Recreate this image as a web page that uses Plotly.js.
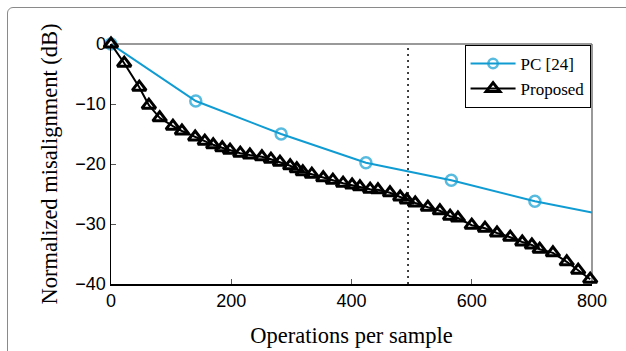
<!DOCTYPE html>
<html>
<head>
<meta charset="utf-8">
<script src="https://cdn.plot.ly/plotly-3.0.1.min.js"></script>
<style>
html,body{margin:0;padding:0;background:#fff;}
#wrap{position:relative;width:626px;height:351px;overflow:hidden;}
#frame{position:absolute;left:7px;top:7px;width:640px;height:360px;border:1px solid #8a8a8a;border-radius:6px;pointer-events:none;}
#chart{position:absolute;left:0;top:0;width:626px;height:351px;}
</style>
</head>
<body>
<div id="wrap"><div id="chart"></div><div id="frame"></div></div>
<script>
// PC [24]
const pcX = [0, 141, 283, 424, 566, 705, 800];
const pcY = [0, -9.5, -15.0, -19.8, -22.7, -26.2, -28.1];
// Proposed
const propX = [0, 22, 47, 63, 81, 103, 118, 140, 156, 170, 185, 198, 215, 231, 251, 266, 281, 298, 309, 319,
  334, 353, 369, 386, 401, 414, 431, 444, 464, 481, 492, 506, 527, 547, 564, 577, 600, 622, 642, 664,
  684, 700, 713, 735, 758, 777, 797];
const propY = [0, -3.2, -7.2, -10.2, -12.3, -13.7, -14.5, -15.5, -16.2, -16.8, -17.3, -17.7, -18.2, -18.5, -18.8, -19.2, -19.7, -20.3, -20.8, -21.3,
  -21.7, -22.3, -22.7, -23.2, -23.5, -23.8, -24.2, -24.3, -24.8, -25.5, -26.0, -26.5, -27.2, -27.8, -28.7, -29.0, -30.2, -30.7, -31.5, -32.2,
  -33.0, -33.5, -34.2, -34.8, -36.3, -37.7, -39.2];
const names = ["PC [24]", "Proposed"];
const xTicks = [0, 200, 400, 600, 800];
const yTicks = [0, -10, -20, -30, -40];
const markerLineX = 494;

const blue = "rgb(16,156,210)";
// no marker drawn on the final (end-of-line) PC point
const pcSizes = pcX.map((v, i) => i === pcX.length - 1 ? 0 : 11);
const traces = [
  {x: pcX, y: pcY, name: names[0], mode: "lines+markers", cliponaxis: false,
   line: {color: blue, width: 2},
   marker: {symbol: "circle-open", size: pcSizes, color: blue, line: {width: 2.5, color: blue}}},
  {x: propX, y: propY, name: names[1], mode: "lines+markers", cliponaxis: false,
   line: {color: "#000", width: 2},
   marker: {symbol: "triangle-up-open", size: 12, color: "#000", line: {width: 3, color: "#000"}}}
];

const layout = {
  width: 626, height: 351,
  margin: {l: 111, r: 34, t: 44, b: 67},
  paper_bgcolor: "#fff", plot_bgcolor: "#fff",
  showlegend: true,
  font: {family: "Liberation Sans, Arial, sans-serif", size: 18, color: "#000"},
  xaxis: {
    range: [0, 800], tickvals: xTicks, ticktext: xTicks.map(String),
    ticks: "inside", ticklen: 5, tickcolor: "#555", tickwidth: 1,
    showgrid: false, zeroline: false, showline: true, linecolor: "#000", linewidth: 1.5,
    tickfont: {family: "Liberation Sans, Arial, sans-serif", size: 18},
    title: {text: "Operations per sample", font: {family: "Liberation Serif, Times New Roman, serif", size: 22.5}, standoff: 17}
  },
  yaxis: {
    range: [-40, 0], tickvals: yTicks,
    ticks: "inside", ticklen: 5, tickcolor: "#555", tickwidth: 1,
    showgrid: false, zeroline: false, showline: true, linecolor: "#000", linewidth: 1.5,
    tickfont: {family: "Liberation Sans, Arial, sans-serif", size: 18},
    title: {text: "Normalized misalignment (dB)", font: {family: "Liberation Serif, Times New Roman, serif", size: 22.5}, standoff: 11}
  },
  legend: {
    x: 0.997, xanchor: "right", y: 0.996, yanchor: "top",
    bgcolor: "#fff", bordercolor: "#000", borderwidth: 1,
    font: {family: "Liberation Serif, Times New Roman, serif", size: 17},
    tracegroupgap: 0, itemwidth: 45
  },
  shapes: [
    {type: "line", xref: "paper", yref: "paper", x0: 0, x1: 1, y0: 1, y1: 1, line: {color: "#777", width: 1.5}, layer: "below"},
    {type: "line", xref: "paper", yref: "paper", x0: 1, x1: 1, y0: 0, y1: 1, line: {color: "#777", width: 1.5}, layer: "below"},
    {type: "line", xref: "x", yref: "paper", x0: markerLineX, x1: markerLineX, y0: 0, y1: 1, line: {color: "#000", width: 1.5, dash: "2px,4px"}, layer: "below"}
  ]
};
Plotly.newPlot("chart", traces, layout, {displayModeBar: false, staticPlot: true});
</script>
</body>
</html>
